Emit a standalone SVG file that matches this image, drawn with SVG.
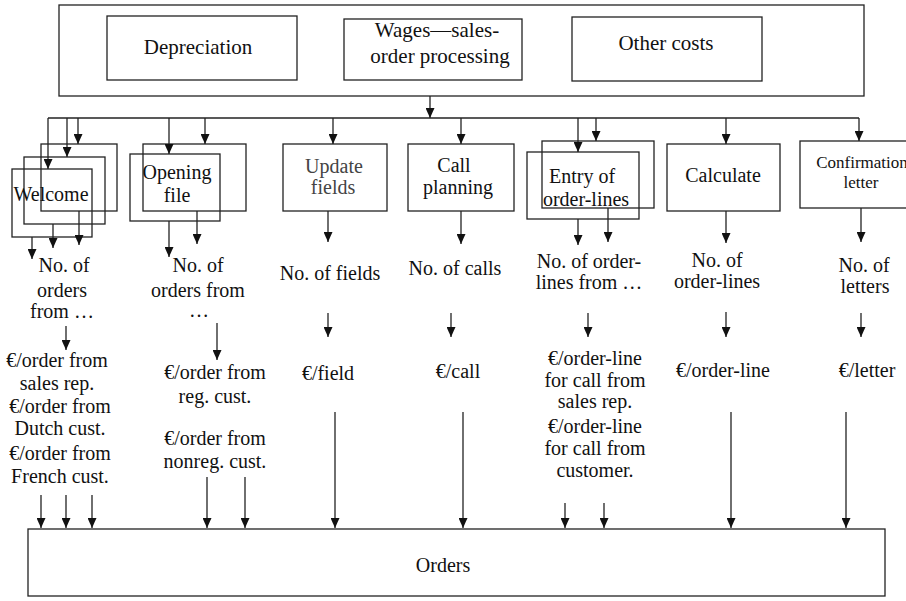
<svg xmlns="http://www.w3.org/2000/svg" width="906" height="601" viewBox="0 0 906 601">
  <style>
    .box { fill: #fff; stroke: #222; stroke-width: 1.3; }
    .open { fill: none; }
    .ln { fill: none; stroke: #222; stroke-width: 1.3; }
    text { font-family: Tinos, "Liberation Serif", "Noto Serif", "DejaVu Serif", Times, serif; font-size: 20px; fill: #111; text-anchor: middle; }
    text.tt { font-size: 21px; }
    text.sm { font-size: 17px; }
    text.gray { fill: #444; }
  </style>
  <defs>
    <marker id="ah" markerUnits="userSpaceOnUse" markerWidth="11" markerHeight="9" refX="10" refY="4.5" orient="auto" viewBox="0 0 11 9">
      <path d="M0,0 L10,4.5 L0,9 Z" fill="#111"/>
    </marker>
  </defs>
  <rect width="906" height="601" fill="#fff"/>

  <!-- cost sources -->
  <g id="costs">
    <rect class="box" x="59" y="5" width="805" height="91"/>
  </g>
  <g id="depreciation">
    <rect class="box" x="107" y="16" width="190" height="64"/>
    <text class="tt" x="198" y="54" style="font-family: 'Liberation Serif', serif">Depreciation</text>
  </g>
  <g id="wages">
    <rect class="box" x="344" y="19" width="178" height="61"/>
    <text class="tt" x="437" y="37">Wages—sales-</text>
    <text class="tt" x="440" y="63">order processing</text>
  </g>
  <g id="other-costs">
    <rect class="box" x="572" y="17" width="190" height="64"/>
    <text class="tt" x="666" y="50">Other costs</text>
  </g>

  <!-- activities -->
  <g id="welcome">
    <rect class="box" x="41" y="144" width="76" height="67"/>
    <rect class="box open" x="24" y="157" width="81" height="67"/>
    <rect class="box open" x="12" y="169" width="80" height="68"/>
    <text x="51" y="201">Welcome</text>
  </g>
  <g id="opening-file">
    <rect class="box" x="143" y="144" width="103" height="67"/>
    <rect class="box open" x="130" y="154" width="90" height="67"/>
    <text x="177" y="179">Opening</text>
    <text x="177" y="202">file</text>
  </g>
  <g id="update-fields">
    <rect class="box" x="283" y="144" width="104" height="67"/>
    <text class="gray" x="334" y="173">Update</text>
    <text class="gray" x="333" y="194">fields</text>
  </g>
  <g id="call-planning">
    <rect class="box" x="408" y="144" width="106" height="67"/>
    <text x="454" y="172">Call</text>
    <text x="458" y="194">planning</text>
  </g>
  <g id="entry-order-lines">
    <rect class="box" x="542" y="141" width="112" height="67"/>
    <rect class="box open" x="527" y="152" width="112" height="67"/>
    <text x="582" y="183">Entry of</text>
    <text x="586" y="206">order-lines</text>
  </g>
  <g id="calculate">
    <rect class="box" x="667" y="144" width="113" height="67"/>
    <text x="723" y="182">Calculate</text>
  </g>
  <g id="confirmation-letter">
    <rect class="box" x="800" y="141" width="120" height="67"/>
    <text class="sm" x="862" y="168">Confirmation</text>
    <text class="sm" x="861" y="188">letter</text>
  </g>

  <!-- drivers and rates -->
  <g id="welcome-drivers">
    <text x="64" y="272">No. of</text>
    <text x="62" y="297">orders</text>
    <text x="62" y="318">from …</text>
    <text x="57" y="367">€/order from</text>
    <text x="57" y="390">sales rep.</text>
    <text x="60" y="413">€/order from</text>
    <text x="60" y="435">Dutch cust.</text>
    <text x="60" y="460">€/order from</text>
    <text x="60" y="483">French cust.</text>
  </g>
  <g id="opening-drivers">
    <text x="198" y="272">No. of</text>
    <text x="198" y="297">orders from</text>
    <text x="199" y="317">…</text>
    <text x="215" y="379">€/order from</text>
    <text x="215" y="403">reg. cust.</text>
    <text x="215" y="445">€/order from</text>
    <text x="215" y="468">nonreg. cust.</text>
  </g>
  <g id="update-drivers">
    <text x="330" y="280">No. of fields</text>
    <text x="328" y="380">€/field</text>
  </g>
  <g id="call-drivers">
    <text x="455" y="275">No. of calls</text>
    <text x="458" y="378">€/call</text>
  </g>
  <g id="entry-drivers">
    <text x="589" y="268">No. of order-</text>
    <text x="589" y="289">lines from …</text>
    <text x="595" y="365">€/order-line</text>
    <text x="595" y="387">for call from</text>
    <text x="595" y="408">sales rep.</text>
    <text x="595" y="433">€/order-line</text>
    <text x="595" y="455">for call from</text>
    <text x="595" y="477">customer.</text>
  </g>
  <g id="calculate-drivers">
    <text x="717" y="267">No. of</text>
    <text x="717" y="288">order-lines</text>
    <text x="723" y="377">€/order-line</text>
  </g>
  <g id="letter-drivers">
    <text x="864" y="272">No. of</text>
    <text x="865" y="293">letters</text>
    <text x="867" y="377">€/letter</text>
  </g>

  <!-- cost object -->
  <g id="orders">
    <rect class="box" x="28" y="529" width="857" height="67"/>
    <text x="443" y="572">Orders</text>
  </g>

  <!-- connectors -->
  <g id="connectors">
    <path class="ln" d="M430,96 V118" marker-end="url(#ah)"/>
    <path class="ln" d="M48,118 H859"/>
    <!-- drops to activities -->
    <path class="ln" d="M48,118 V169" marker-end="url(#ah)"/>
    <path class="ln" d="M67,118 V157" marker-end="url(#ah)"/>
    <path class="ln" d="M78,118 V144" marker-end="url(#ah)"/>
    <path class="ln" d="M169,118 V154" marker-end="url(#ah)"/>
    <path class="ln" d="M205,118 V144" marker-end="url(#ah)"/>
    <path class="ln" d="M333,118 V144" marker-end="url(#ah)"/>
    <path class="ln" d="M461,118 V144" marker-end="url(#ah)"/>
    <path class="ln" d="M578,118 V152" marker-end="url(#ah)"/>
    <path class="ln" d="M596,118 V141" marker-end="url(#ah)"/>
    <path class="ln" d="M726,118 V144" marker-end="url(#ah)"/>
    <path class="ln" d="M859,118 V141" marker-end="url(#ah)"/>
    <!-- activities to drivers -->
    <path class="ln" d="M32,237 V259" marker-end="url(#ah)"/>
    <path class="ln" d="M53,224 V248" marker-end="url(#ah)"/>
    <path class="ln" d="M79,211 V245" marker-end="url(#ah)"/>
    <path class="ln" d="M169,221 V257" marker-end="url(#ah)"/>
    <path class="ln" d="M197,211 V244" marker-end="url(#ah)"/>
    <path class="ln" d="M328,211 V242" marker-end="url(#ah)"/>
    <path class="ln" d="M461,211 V244" marker-end="url(#ah)"/>
    <path class="ln" d="M578,219 V245" marker-end="url(#ah)"/>
    <path class="ln" d="M608,208 V242" marker-end="url(#ah)"/>
    <path class="ln" d="M726,211 V243" marker-end="url(#ah)"/>
    <path class="ln" d="M861,208 V242" marker-end="url(#ah)"/>
    <!-- drivers to rates -->
    <path class="ln" d="M66,326 V350" marker-end="url(#ah)"/>
    <path class="ln" d="M217,323 V360" marker-end="url(#ah)"/>
    <path class="ln" d="M328,313 V337" marker-end="url(#ah)"/>
    <path class="ln" d="M451,313 V337" marker-end="url(#ah)"/>
    <path class="ln" d="M588,313 V337" marker-end="url(#ah)"/>
    <path class="ln" d="M726,312 V337" marker-end="url(#ah)"/>
    <path class="ln" d="M861,313 V337" marker-end="url(#ah)"/>
    <!-- rates to orders -->
    <path class="ln" d="M41,495 V528" marker-end="url(#ah)"/>
    <path class="ln" d="M66,495 V528" marker-end="url(#ah)"/>
    <path class="ln" d="M92,495 V528" marker-end="url(#ah)"/>
    <path class="ln" d="M207,477 V528" marker-end="url(#ah)"/>
    <path class="ln" d="M245,477 V528" marker-end="url(#ah)"/>
    <path class="ln" d="M335,412 V528" marker-end="url(#ah)"/>
    <path class="ln" d="M463,412 V528" marker-end="url(#ah)"/>
    <path class="ln" d="M565,503 V528" marker-end="url(#ah)"/>
    <path class="ln" d="M604,503 V528" marker-end="url(#ah)"/>
    <path class="ln" d="M731,412 V528" marker-end="url(#ah)"/>
    <path class="ln" d="M846,412 V528" marker-end="url(#ah)"/>
  </g>
</svg>
